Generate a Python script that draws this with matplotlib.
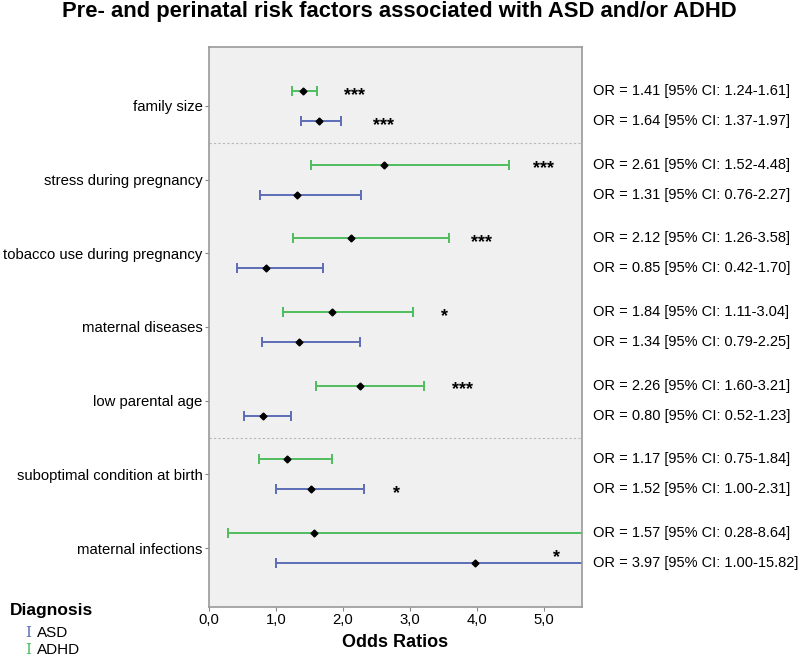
import matplotlib
matplotlib.use('agg')
import matplotlib.pyplot as plt
import matplotlib.transforms as mtransforms
import numpy as np

plt.rcParams['font.family'] = ['Liberation Sans', 'DejaVu Sans']

factors = ['family size', 'stress during pregnancy', 'tobacco use during pregnancy',
           'maternal diseases', 'low parental age', 'suboptimal condition at birth',
           'maternal infections']

adhd_or = [1.41, 2.61, 2.12, 1.84, 2.26, 1.17, 1.57]
adhd_lo = [1.24, 1.52, 1.26, 1.11, 1.60, 0.75, 0.28]
adhd_hi = [1.61, 4.48, 3.58, 3.04, 3.21, 1.84, 8.64]

asd_or = [1.64, 1.31, 0.85, 1.34, 0.80, 1.52, 3.97]
asd_lo = [1.37, 0.76, 0.42, 0.79, 0.52, 1.00, 1.00]
asd_hi = [1.97, 2.27, 1.70, 2.25, 1.23, 2.31, 15.82]

# significance stars: (factor index, group, label, x position)
stars = [(0, 'ADHD', '***', 2.18), (0, 'ASD', '***', 2.60),
         (1, 'ADHD', '***', 5.00), (2, 'ADHD', '***', 4.07),
         (3, 'ADHD', '*', 3.51), (4, 'ADHD', '***', 3.78),
         (5, 'ASD', '*', 2.80), (6, 'ASD', '*', 5.19)]

c_asd = '#5b6db6'
c_adhd = '#4fbd5e'
XMAX = 5.57
off = 0.205

fig = plt.figure(figsize=(7.98, 6.56), dpi=100)
ax = fig.add_axes([0.2619, 0.0747, 0.4674, 0.8537])
ax.set_facecolor('#f0f0f0')

y = np.arange(len(factors))
y_adhd = y - off
y_asd = y + off

def draw(ys, orv, lo, hi, col):
    orv = np.array(orv); lo = np.array(lo); hi = np.array(hi)
    hi_c = np.minimum(hi, XMAX)
    ax.hlines(ys, lo, hi_c, color=col, lw=1.4, zorder=2)
    ax.plot(lo, ys, '|', color=col, ms=6.5, mew=1.4, zorder=2)
    keep = hi <= XMAX
    ax.plot(hi[keep], ys[keep], '|', color=col, ms=6.5, mew=1.4, zorder=2)
    ax.plot(orv, ys, 'D', color='black', ms=3.5, zorder=3)

draw(y_adhd, adhd_or, adhd_lo, adhd_hi, c_adhd)
draw(y_asd, asd_or, asd_lo, asd_hi, c_asd)

for sep in [0.5, 4.5]:
    ax.axhline(sep, color='#b8b8b8', lw=0.8, ls=(0, (2, 2)), zorder=1)

for i, grp, lab, sx in stars:
    sy = y_adhd[i] if grp == 'ADHD' else y_asd[i]
    if i == 6:
        sy -= 0.13
    ax.text(sx, sy + 0.12, lab, ha='center', va='baseline', fontsize=13,
            fontweight='bold', color='black')

trans = mtransforms.blended_transform_factory(ax.transAxes, ax.transData)
for i in range(len(factors)):
    ax.text(1.03, y_adhd[i], 'OR = %.2f [95%% CI: %.2f-%.2f]' % (adhd_or[i], adhd_lo[i], adhd_hi[i]),
            transform=trans, ha='left', va='center', fontsize=10.5, clip_on=False)
    ax.text(1.03, y_asd[i], 'OR = %.2f [95%% CI: %.2f-%.2f]' % (asd_or[i], asd_lo[i], asd_hi[i]),
            transform=trans, ha='left', va='center', fontsize=10.5, clip_on=False)

ax.set_xlim(0, XMAX)
ax.set_ylim(6.8, -0.8)
ax.set_xticks([0, 1, 2, 3, 4, 5])
ax.set_xticklabels(['0,0', '1,0', '2,0', '3,0', '4,0', '5,0'], fontsize=10.7)
ax.set_yticks(y)
ax.set_yticklabels(factors, fontsize=10.7)
ax.tick_params(axis='both', length=3, color='#888888', width=0.8, pad=1.5)
for s in ax.spines.values():
    s.set_color('#999999')
    s.set_linewidth(1.2)
ax.set_xlabel('Odds Ratios', fontsize=13, fontweight='bold', labelpad=5)

fig.text(0.5, 0.982, 'Pre- and perinatal risk factors associated with ASD and/or ADHD',
         ha='center', va='center', fontsize=15.8, fontweight='bold')

# legend
fig.text(0.012, 1 - 610 / 656, 'Diagnosis', ha='left', va='center', fontsize=12.5, fontweight='bold')
fig.text(0.031, 1 - 633 / 656, 'I', ha='left', va='center', fontsize=11, color=c_asd, family='DejaVu Serif')
fig.text(0.046, 1 - 633 / 656, 'ASD', ha='left', va='center', fontsize=11)
fig.text(0.031, 1 - 650 / 656, 'I', ha='left', va='center', fontsize=11, color=c_adhd, family='DejaVu Serif')
fig.text(0.046, 1 - 650 / 656, 'ADHD', ha='left', va='center', fontsize=11)

fig.savefig('out.png', dpi=100)
